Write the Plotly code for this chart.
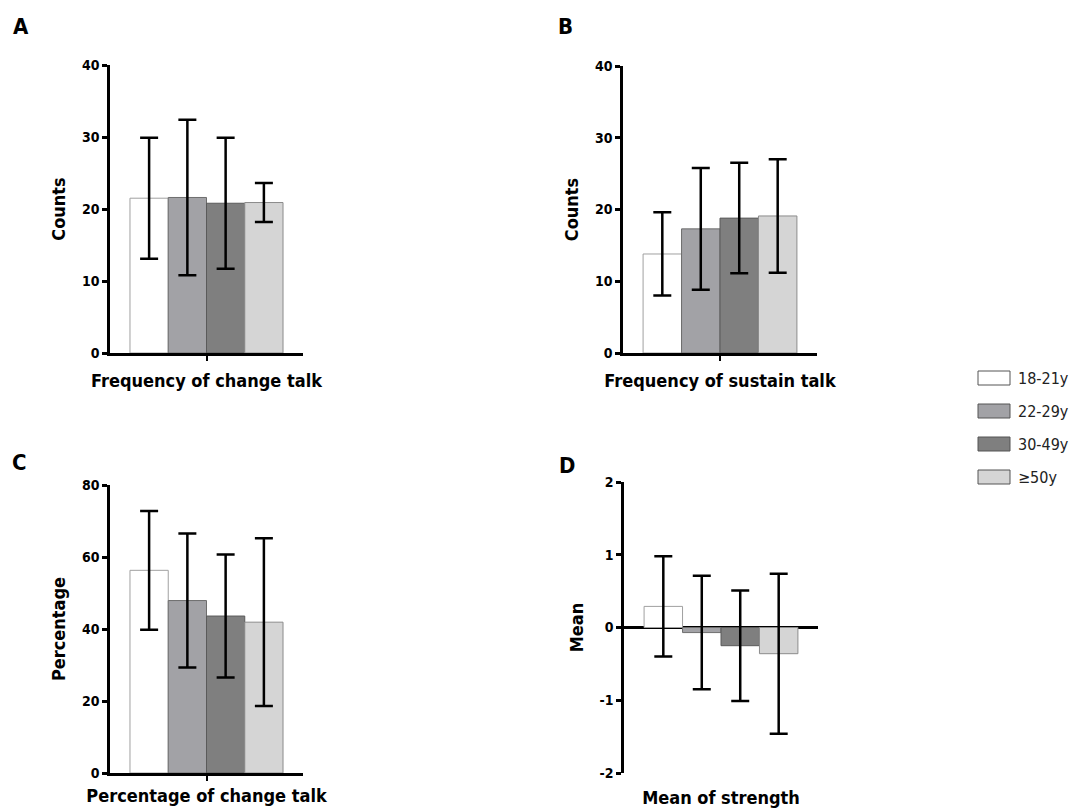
import plotly.graph_objects as go

# ---------------- data ----------------
groups = ["18-21y", "22-29y", "30-49y", "≥50y"]
panel_letters = ["A", "B", "C", "D"]
categories = ["Frequency of change talk", "Frequency of sustain talk",
              "Percentage of change talk", "Mean of strength"]
y_titles = ["Counts", "Counts", "Percentage", "Mean"]

change_talk_mean = [21.5, 21.6, 20.8, 20.9]
change_talk_sd = [8.4, 10.8, 9.1, 2.7]
sustain_talk_mean = [13.8, 17.3, 18.8, 19.1]
sustain_talk_sd = [5.8, 8.5, 7.7, 7.9]
pct_change_mean = [56.3, 47.9, 43.6, 41.9]
pct_change_sd = [16.5, 18.6, 17.1, 23.3]
strength_mean = [0.29, -0.07, -0.25, -0.36]
strength_sd = [0.69, 0.78, 0.76, 1.10]

y_tickvals = [[0, 10, 20, 30, 40], [0, 10, 20, 30, 40],
              [0, 20, 40, 60, 80], [-2, -1, 0, 1, 2]]
y_ticktext = [["0", "10", "20", "30", "40"], ["0", "10", "20", "30", "40"],
              ["0", "20", "40", "60", "80"], ["-2", "-1", "0", "1", "2"]]

# ---------------- style ----------------
W, H = 1077, 810
fill_colors = ["#ffffff", "#a2a2a6", "#7f7f7f", "#d5d5d5"]
line_colors = ["#a0a0a0", "#6e6e6e", "#5a5a5a", "#8c8c8c"]
FONT = "DejaVu Sans Condensed, Liberation Sans Narrow, Arial Narrow, sans-serif"

# plot areas in pixels: (x0, x1, ytop, ybottom)
boxes = [(110, 303, 65, 353), (623, 817, 66, 353),
         (110, 303, 485, 773), (624, 818, 482, 773)]
x_label_standoff = [5, 5, 0, 12]

means = [change_talk_mean, sustain_talk_mean, pct_change_mean, strength_mean]
sds = [change_talk_sd, sustain_talk_sd, pct_change_sd, strength_sd]

fig = go.Figure()

for p in range(4):
    xa = "x" if p == 0 else f"x{p+1}"
    ya = "y" if p == 0 else f"y{p+1}"
    for g in range(4):
        fig.add_trace(go.Bar(
            x=[categories[p]], y=[means[p][g]], name=groups[g],
            xaxis=xa, yaxis=ya, showlegend=False, offsetgroup=str(g),
            marker=dict(color=fill_colors[g], line=dict(color=line_colors[g], width=1)),
            error_y=dict(type="data", array=[sds[p][g]], visible=True,
                         color="black", thickness=2.5, width=9),
        ))

layout = dict(
    width=W, height=H, margin=dict(l=0, r=0, t=0, b=0),
    paper_bgcolor="white", plot_bgcolor="white",
    barmode="group", bargap=0.207, bargroupgap=0,
    font=dict(family=FONT, color="black"),
)

for p in range(4):
    x0, x1, yt, yb = boxes[p]
    xk = "xaxis" if p == 0 else f"xaxis{p+1}"
    yk = "yaxis" if p == 0 else f"yaxis{p+1}"
    xa = "x" if p == 0 else f"x{p+1}"
    ya = "y" if p == 0 else f"y{p+1}"
    is_d = (p == 3)
    tv = y_tickvals[p]
    layout[xk] = dict(
        domain=[x0 / W, x1 / W], anchor=ya, automargin=False,
        showline=not is_d, linecolor="black", linewidth=2.5,
        ticks="" if is_d else "outside", ticklen=5, tickwidth=2, tickcolor="black",
        showgrid=False, zeroline=False, fixedrange=True,
        tickfont=dict(family=FONT, size=18, weight="bold", color="black"),
        ticklabelstandoff=x_label_standoff[p],
    )
    layout[yk] = dict(
        domain=[1 - yb / H, 1 - yt / H], anchor=xa, automargin=False,
        range=[tv[0], tv[-1]], tickmode="array", tickvals=tv, ticktext=y_ticktext[p],
        showline=True, linecolor="black", linewidth=2.5,
        ticks="outside", ticklen=5, tickwidth=2.5, tickcolor="black",
        showgrid=False, zeroline=is_d, zerolinecolor="black", zerolinewidth=2.5,
        tickfont=dict(family=FONT, size=14, weight="bold", color="black"),
        title=dict(text=y_titles[p], standoff=12,
                   font=dict(family=FONT, size=18, weight="bold", color="black")),
        fixedrange=True,
    )

fig.update_layout(**layout)

# panel letters
letter_pos = [(21, 26), (565, 26), (20, 462), (567, 465)]
for p in range(4):
    lx, ly = letter_pos[p]
    fig.add_annotation(text=panel_letters[p], x=lx / W, y=1 - ly / H, xref="paper", yref="paper",
                       showarrow=False, xanchor="center", yanchor="middle",
                       font=dict(family=FONT, size=22, weight="bold", color="black"))

# legend (drawn as swatches + labels)
leg_rows = [378, 411, 444, 477]
for g in range(4):
    cy = leg_rows[g]
    fig.add_shape(type="rect", xref="paper", yref="paper",
                  x0=978 / W, x1=1010 / W, y0=1 - (cy + 7) / H, y1=1 - (cy - 7) / H,
                  fillcolor=fill_colors[g], line=dict(color="#555555", width=1))
    fig.add_annotation(text=groups[g], x=1016 / W, y=1 - cy / H, xref="paper", yref="paper",
                       showarrow=False, xanchor="left", yanchor="middle",
                       font=dict(family=FONT, size=16, color="#222222"))

fig.write_html("out.html", config={"displayModeBar": False},
               post_script="document.body.style.margin='0px';document.body.style.overflow='hidden';")
